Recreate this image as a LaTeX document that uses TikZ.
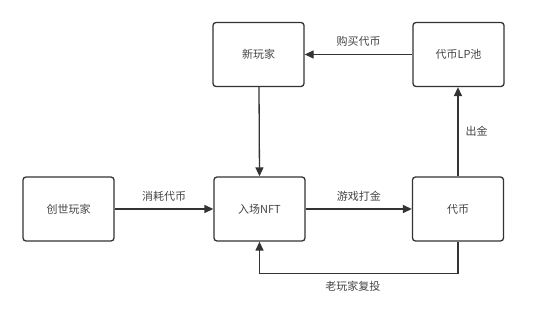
\documentclass[tikz,border=0pt]{standalone}
\usepackage{fontspec}
\newfontfamily\cjk{Noto Sans CJK SC}
\usetikzlibrary{arrows.meta}
\definecolor{ink}{HTML}{333333}
\definecolor{txt}{HTML}{444444}
\tikzset{
  box/.style={draw=ink, line width=1.3pt, rounded corners=3pt, minimum width=91pt, minimum height=64pt, inner sep=0pt, text=txt},
  conn/.style={draw=ink, line width=1.3pt, -{Triangle[length=9pt,width=8pt]}},
  lbl/.style={text=txt, inner sep=1pt}
}
\begin{document}
\begin{tikzpicture}[x=1pt,y=-1pt,font=\cjk\fontsize{11}{13}\selectfont]
\useasboundingbox (0,0) rectangle (554,328);
\node[box] (newp) at (258.5,54.5) {新玩家};
\node[box] (lp)   at (458.5,54.5) {代币LP池};
\node[box] (gen)  at (68.5,209) {创世玩家};
\node[box] (nft)  at (259.5,209) {入场NFT};
\node[box] (coin) at (458,209) {代币};
\draw[conn] (lp) -- node[lbl, midway, above=6pt] {购买代币} (newp);
\draw[conn] (newp.south -| 259,0) -- (nft.north);
\draw[conn] (gen) -- node[lbl, midway, above=6pt] {消耗代币} (nft);
\draw[conn] (nft) -- node[lbl, midway, above=6pt] {游戏打金} (coin);
\draw[conn] (coin.north -| 458,0) -- node[lbl, midway, right=6pt] {出金} (lp.south -| 458,0);
\draw[conn] (coin.south) -- ++(0,32) -| node[lbl, pos=0.25, below=6pt, xshift=-6pt] {老玩家复投} (nft.south);
\end{tikzpicture}
\end{document}
